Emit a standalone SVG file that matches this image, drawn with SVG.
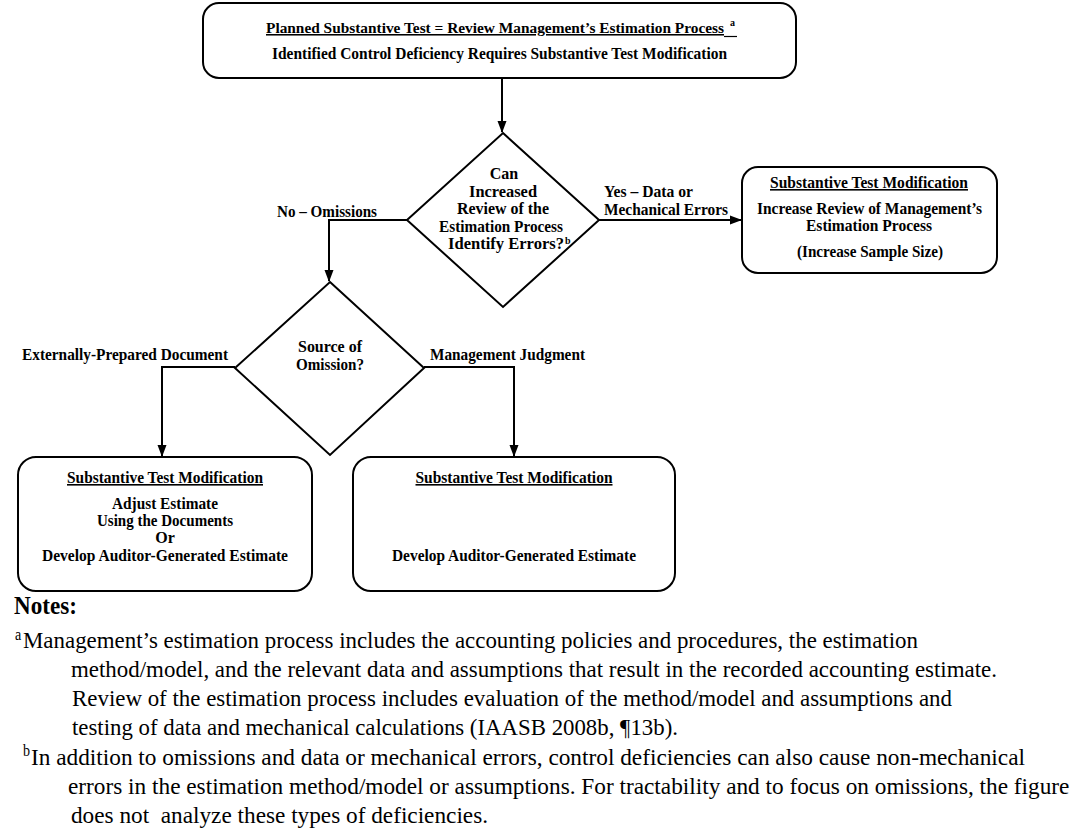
<svg xmlns="http://www.w3.org/2000/svg" width="1081" height="828" viewBox="0 0 1081 828">
<style>
.box{fill:#fff;stroke:#000;stroke-width:2}
.b{font-family:"Liberation Serif","Times New Roman",serif;font-weight:bold;font-size:16px;fill:#000}
.c{text-anchor:middle}
.u{text-decoration:underline}
.n{font-family:"Liberation Serif","Times New Roman",serif;font-size:24px;fill:#000}
.conn{fill:none;stroke:#000;stroke-width:2}
</style>
<defs>
<marker id="arr" markerWidth="12" markerHeight="10" refX="11" refY="5" orient="auto" markerUnits="userSpaceOnUse">
<path d="M0,0.5 L12,5 L0,9.5 Z" fill="#000"/>
</marker>
</defs>
<rect width="1081" height="828" fill="#fff"/>
<g id="connectors">
<path class="conn" d="M502,78 L502,132" marker-end="url(#arr)"/>
<path class="conn" d="M599,220 L741,220" marker-end="url(#arr)"/>
<path class="conn" d="M407,220 L329,220 L329,281" marker-end="url(#arr)"/>
<path class="conn" d="M235,367 L162,367 L162,456" marker-end="url(#arr)"/>
<path class="conn" d="M424,367 L514,367 L514,456" marker-end="url(#arr)"/>
</g>
<g id="labels">
<text class="b c" x="327" y="217" textLength="100" lengthAdjust="spacingAndGlyphs">No – Omissions</text>
<text class="b" x="604" y="197" textLength="89" lengthAdjust="spacingAndGlyphs">Yes – Data or</text>
<text class="b" x="604" y="215" textLength="124" lengthAdjust="spacingAndGlyphs">Mechanical Errors</text>
<text class="b" x="22" y="360" textLength="206" lengthAdjust="spacingAndGlyphs">Externally-Prepared Document</text>
<text class="b" x="430" y="360" textLength="155" lengthAdjust="spacingAndGlyphs">Management Judgment</text>
</g>
<g id="start">
<rect class="box" x="203" y="3" width="593" height="75" rx="16"/>
<text class="b" x="266" y="33" font-size="15"><tspan class="u" font-size="15.5" textLength="458" lengthAdjust="spacingAndGlyphs">Planned Substantive Test = Review Management’s Estimation Process</tspan><tspan dx="6" dy="-7" font-size="10">a</tspan></text>
<line x1="724" y1="36.5" x2="737" y2="36.5" stroke="#000" stroke-width="1.2"/>
<text class="b" x="272" y="59" textLength="455" lengthAdjust="spacingAndGlyphs">Identified Control Deficiency Requires Substantive Test Modification</text>
</g>
<g id="decision1">
<polygon class="box" points="503,133 599,220 503,307 407,220"/>
<text class="b c" x="504" y="179">Can</text>
<text class="b c" x="503" y="197" textLength="68" lengthAdjust="spacingAndGlyphs">Increased</text>
<text class="b c" x="503" y="214" textLength="92" lengthAdjust="spacingAndGlyphs">Review of the</text>
<text class="b c" x="501" y="232" textLength="124" lengthAdjust="spacingAndGlyphs">Estimation Process</text>
<text class="b" x="448" y="249"><tspan textLength="116" lengthAdjust="spacingAndGlyphs">Identify Errors?</tspan><tspan dx="1" dy="-5" font-size="10">b</tspan></text>
</g>
<g id="modify-review">
<rect class="box" x="742" y="167" width="255" height="106" rx="16"/>
<text class="b u" x="770" y="188" textLength="198" lengthAdjust="spacingAndGlyphs">Substantive Test Modification</text>
<text class="b" x="757" y="214" textLength="225" lengthAdjust="spacingAndGlyphs">Increase Review of Management’s</text>
<text class="b c" x="869" y="231" textLength="126" lengthAdjust="spacingAndGlyphs">Estimation Process</text>
<text class="b" x="797" y="257" textLength="146" lengthAdjust="spacingAndGlyphs">(Increase Sample Size)</text>
</g>
<g id="decision2">
<polygon class="box" points="330,282 424,368 330,455 235,368"/>
<text class="b c" x="330" y="352" textLength="64" lengthAdjust="spacingAndGlyphs">Source of</text>
<text class="b c" x="330" y="370" textLength="68" lengthAdjust="spacingAndGlyphs">Omission?</text>
</g>
<g id="modify-documents">
<rect class="box" x="18" y="457" width="294" height="134" rx="18"/>
<text class="b c u" x="165" y="483" textLength="196" lengthAdjust="spacingAndGlyphs">Substantive Test Modification</text>
<text class="b c" x="165" y="509" textLength="106" lengthAdjust="spacingAndGlyphs">Adjust Estimate</text>
<text class="b c" x="165" y="526" textLength="136" lengthAdjust="spacingAndGlyphs">Using the Documents</text>
<text class="b c" x="165" y="543">Or</text>
<text class="b c" x="165" y="561" textLength="246" lengthAdjust="spacingAndGlyphs">Develop Auditor-Generated Estimate</text>
</g>
<g id="modify-judgment">
<rect class="box" x="353" y="457" width="322" height="134" rx="18"/>
<text class="b c u" x="514" y="483" textLength="197" lengthAdjust="spacingAndGlyphs">Substantive Test Modification</text>
<text class="b c" x="514" y="561" textLength="244" lengthAdjust="spacingAndGlyphs">Develop Auditor-Generated Estimate</text>
</g>
<g id="notes" transform="scale(0.88,1)">
<text x="15.91" y="614" font-family="Liberation Serif, Times New Roman, serif" font-weight="bold" font-size="25" textLength="71.6" lengthAdjust="spacingAndGlyphs">Notes:</text>
<text class="n" x="17.05" y="648"><tspan dy="-8" font-size="16">a</tspan><tspan x="26.14" dy="8" textLength="1017" lengthAdjust="spacingAndGlyphs">Management’s estimation process includes the accounting policies and procedures, the estimation</tspan></text>
<text class="n" x="80.68" y="677" textLength="1052.3" lengthAdjust="spacingAndGlyphs">method/model, and the relevant data and assumptions that result in the recorded accounting estimate.</text>
<text class="n" x="81.82" y="706" textLength="1000" lengthAdjust="spacingAndGlyphs">Review of the estimation process includes evaluation of the method/model and assumptions and</text>
<text class="n" x="81.82" y="735" textLength="688.6" lengthAdjust="spacingAndGlyphs">testing of data and mechanical calculations (IAASB 2008b, ¶13b).</text>
<text class="n" x="26.14" y="765"><tspan dy="-9" font-size="16">b</tspan><tspan x="35.23" dy="9" textLength="1129.5" lengthAdjust="spacingAndGlyphs">In addition to omissions and data or mechanical errors, control deficiencies can also cause non-mechanical</tspan></text>
<text class="n" x="77.27" y="794" textLength="1138" lengthAdjust="spacingAndGlyphs">errors in the estimation method/model or assumptions. For tractability and to focus on omissions, the figure</text>
<text class="n" x="80.68" y="823" textLength="473.9" lengthAdjust="spacingAndGlyphs" xml:space="preserve">does not  analyze these types of deficiencies.</text>
</g>
</svg>
